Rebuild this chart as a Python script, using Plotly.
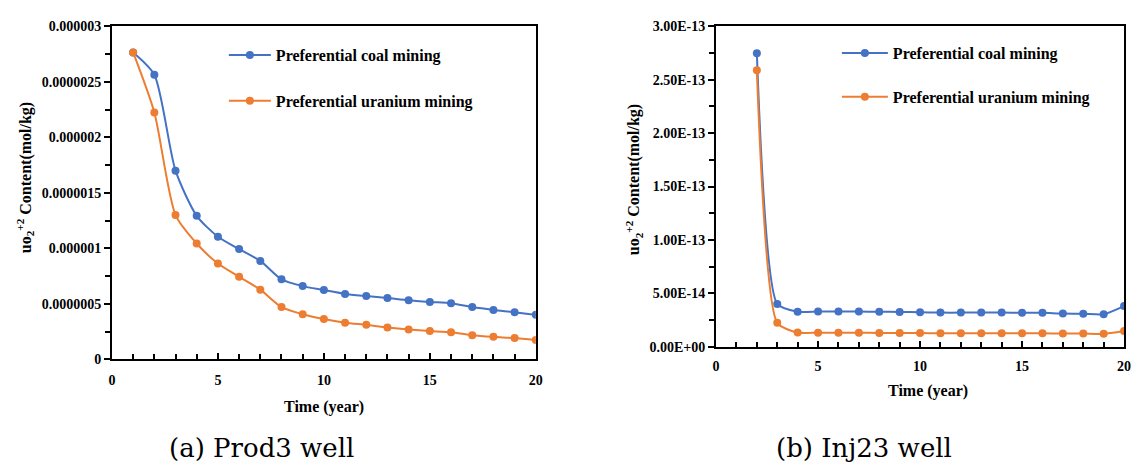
import plotly.graph_objects as go

# ---- data ----
years_a = list(range(1, 21))
coal_a = [2.765e-6, 2.564e-6, 1.70e-6, 1.293e-6, 1.105e-6, 0.994e-6, 0.887e-6, 0.721e-6, 0.660e-6, 0.625e-6,
          0.590e-6, 0.570e-6, 0.552e-6, 0.532e-6, 0.517e-6, 0.506e-6, 0.471e-6, 0.445e-6, 0.425e-6, 0.401e-6]
uran_a = [2.765e-6, 2.224e-6, 1.300e-6, 1.044e-6, 0.863e-6, 0.744e-6, 0.628e-6, 0.471e-6, 0.407e-6, 0.364e-6,
          0.331e-6, 0.311e-6, 0.288e-6, 0.270e-6, 0.256e-6, 0.244e-6, 0.218e-6, 0.203e-6, 0.192e-6, 0.174e-6]

years_b = list(range(2, 21))
coal_b = [2.749e-13, 0.401e-13, 0.329e-13, 0.330e-13, 0.330e-13, 0.330e-13, 0.328e-13, 0.326e-13, 0.324e-13,
          0.320e-13, 0.320e-13, 0.320e-13, 0.320e-13, 0.318e-13, 0.318e-13, 0.311e-13, 0.310e-13, 0.305e-13, 0.381e-13]
uran_b = [2.589e-13, 0.224e-13, 0.133e-13, 0.132e-13, 0.132e-13, 0.131e-13, 0.130e-13, 0.130e-13, 0.128e-13,
          0.127e-13, 0.127e-13, 0.127e-13, 0.127e-13, 0.126e-13, 0.126e-13, 0.125e-13, 0.124e-13, 0.121e-13, 0.148e-13]

series_names = ["Preferential coal mining", "Preferential uranium mining"]
colors = ["#4472C4", "#ED7D31"]

ytick_a_vals = [0, 5e-7, 1e-6, 1.5e-6, 2e-6, 2.5e-6, 3e-6]
ytick_a_text = ["<b>0</b>", "<b>0.0000005</b>", "<b>0.000001</b>", "<b>0.0000015</b>",
                "<b>0.000002</b>", "<b>0.0000025</b>", "<b>0.000003</b>"]
ytick_b_vals = [0, 5e-14, 1e-13, 1.5e-13, 2e-13, 2.5e-13, 3e-13]
ytick_b_text = ["<b>0.00E+00</b>", "<b>5.00E-14</b>", "<b>1.00E-13</b>", "<b>1.50E-13</b>",
                "<b>2.00E-13</b>", "<b>2.50E-13</b>", "<b>3.00E-13</b>"]
xtick_vals = [0, 5, 10, 15, 20]
xtick_text = ["<b>0</b>", "<b>5</b>", "<b>10</b>", "<b>15</b>", "<b>20</b>"]

SERIF = "Liberation Serif, Times New Roman, serif"
W, H = 1138, 470

fig = go.Figure()

for name, ys, c in zip(series_names, [coal_a, uran_a], colors):
    fig.add_trace(go.Scatter(x=years_a, y=ys, name="<b>" + name + "</b>", mode="lines+markers",
                             line=dict(color=c, width=2, shape="spline", smoothing=0.7),
                             marker=dict(color=c, size=8), xaxis="x", yaxis="y",
                             legend="legend", legendgroup=name + "a"))
for name, ys, c in zip(series_names, [coal_b, uran_b], colors):
    fig.add_trace(go.Scatter(x=years_b, y=ys, name="<b>" + name + "</b>", mode="lines+markers",
                             line=dict(color=c, width=2, shape="spline", smoothing=0.6),
                             marker=dict(color=c, size=8), xaxis="x2", yaxis="y2",
                             legend="legend2", legendgroup=name + "b"))

tickfont = dict(family=SERIF, size=14, color="black")

def xaxis_cfg(domain, anchor, standoff):
    return dict(domain=domain, anchor=anchor, range=[0, 20], tickmode="array",
                tickvals=xtick_vals, ticktext=xtick_text, ticklabelstandoff=standoff,
                ticks="inside", ticklen=6, tickwidth=1.5, tickcolor="black",
                minor=dict(dtick=1, tick0=0, ticks="inside", ticklen=5, tickwidth=1.5, tickcolor="black"),
                showline=True, linewidth=2, linecolor="black", mirror=True,
                showgrid=False, zeroline=False, tickfont=tickfont, fixedrange=True)

def yaxis_cfg(domain, anchor, vals, text, rng):
    step = vals[1] - vals[0]
    return dict(domain=domain, anchor=anchor, range=rng, tickmode="array",
                tickvals=vals, ticktext=text,
                ticks="outside", ticklen=6, tickwidth=1.5, tickcolor="black",
                minor=dict(tickmode="array", tickvals=[v + step / 2 for v in vals[:-1]],
                           ticks="outside", ticklen=5, tickwidth=1.5, tickcolor="black"),
                showline=True, linewidth=2, linecolor="black", mirror=True,
                showgrid=False, zeroline=False, tickfont=tickfont, fixedrange=True)

ya_dom = [(H - 364) / H, (H - 20) / H]
yb_dom = [(H - 351) / H, (H - 20) / H]

legfont = dict(family=SERIF, size=16, color="black")

fig.update_layout(
    width=W, height=H, margin=dict(l=0, r=0, t=0, b=0),
    paper_bgcolor="white", plot_bgcolor="white",
    xaxis=xaxis_cfg([109 / W, 537 / W], "y", 7),
    yaxis=yaxis_cfg(ya_dom, "x", ytick_a_vals, ytick_a_text, [0, 3e-6]),
    xaxis2=xaxis_cfg([719 / W, 1131 / W], "y2", 5),
    yaxis2=yaxis_cfg(yb_dom, "x2", ytick_b_vals, ytick_b_text, [0, 3e-13]),
    legend=dict(x=222 / W, y=(H - 32) / H, xanchor="left", yanchor="top",
                bgcolor="rgba(0,0,0,0)", font=legfont, tracegroupgap=22,
                traceorder="grouped", itemwidth=42),
    legend2=dict(x=841 / W, y=(H - 30) / H, xanchor="left", yanchor="top",
                 bgcolor="rgba(0,0,0,0)", font=legfont, tracegroupgap=20,
                 traceorder="grouped", itemwidth=46),
    showlegend=True,
)

ytitle = "<b>uo<sub>2</sub><sup>+2</sup> Content(mol/kg)</b>"
annot_font = dict(family=SERIF, size=16, color="black")
fig.add_annotation(text=ytitle, x=22 / W, y=(H - 176) / H, xref="paper", yref="paper",
                   xanchor="center", yanchor="middle",
                   textangle=-90, showarrow=False, font=annot_font)
fig.add_annotation(text=ytitle, x=636 / W, y=(H - 178) / H, xref="paper", yref="paper",
                   xanchor="center", yanchor="middle",
                   textangle=-90, showarrow=False, font=annot_font)
fig.add_annotation(text="<b>Time (year)</b>", x=323 / W, y=(H - 413) / H, xref="paper", yref="paper",
                   xanchor="center", yanchor="middle", showarrow=False, font=annot_font)
fig.add_annotation(text="<b>Time (year)</b>", x=933 / W, y=(H - 397) / H, xref="paper", yref="paper",
                   xanchor="center", yanchor="middle", showarrow=False, font=annot_font)

cap_font = dict(family="DejaVu Serif", size=26, color="black")
fig.add_annotation(text="(a) Prod3 well", x=260 / W, y=(H - 456) / H, xref="paper", yref="paper",
                   xanchor="center", yanchor="middle", showarrow=False, font=cap_font)
fig.add_annotation(text="(b) Inj23 well", x=868 / W, y=(H - 456) / H, xref="paper", yref="paper",
                   xanchor="center", yanchor="middle", showarrow=False, font=cap_font)

fig.write_html("out.html")
